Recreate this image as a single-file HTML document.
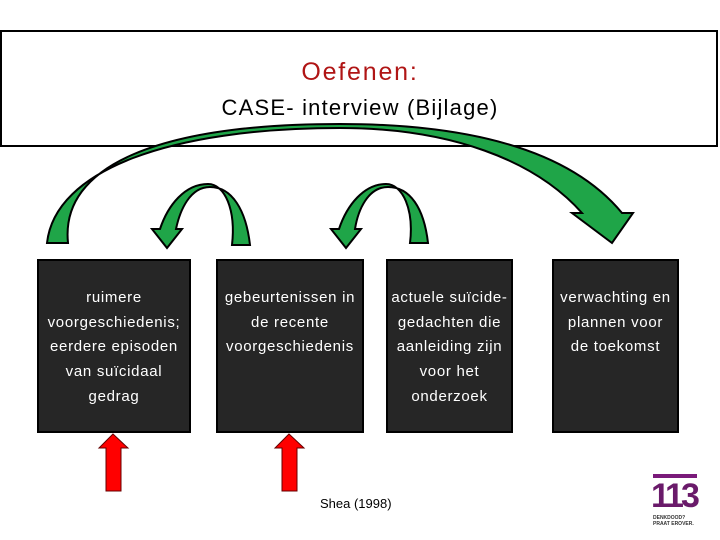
<!DOCTYPE html>
<html><head><style>
body{margin:0;background:#fff;}
.wrap{position:relative;width:720px;height:540px;overflow:hidden;font-family:"Liberation Sans",sans-serif;}
.box{position:absolute;background:#262626;border:2px solid #000;box-sizing:border-box;color:#fff;text-align:center;font-size:15px;letter-spacing:0.7px;line-height:24.7px;padding-top:25px;white-space:nowrap;}
</style></head><body><div class="wrap">
<div style="position:absolute;left:0;top:30px;width:718px;height:117px;border:2px solid #000;box-sizing:border-box;"></div>
<div style="position:absolute;left:0;top:58px;width:720px;text-align:center;font-size:25px;letter-spacing:1.8px;color:#b01515;">Oefenen:</div>
<div style="position:absolute;left:0;top:95px;width:720px;text-align:center;font-size:22px;letter-spacing:1.2px;color:#000;">CASE- interview (Bijlage)</div>
<svg width="720" height="540" style="position:absolute;left:0;top:0">
<g fill="#1fa548" stroke="#000" stroke-width="2" stroke-linejoin="miter">
<path d="M47 243 C55 170 170 128 340 128 C450 128 535 160 582 213 L572 213 L612 243 L633 213 L622 213 C570 150 470 124 340 124 C160 124 60 165 68 243 Z"/>
<path d="M250 245 C246 210 232 187 210 187 C190 187 180 210 176 229 L182 229 L167 248 L152 229 L160 229 C168 205 185 184 208 184 C225 184 236 210 232 245 Z"/>
<path d="M428 243 C424 208 410 187 388 187 C368 187 358 210 355 229 L361 229 L346 248 L331 229 L339 229 C347 205 364 184 386 184 C403 184 414 210 410 243 Z"/>
</g>
<g fill="#f00" stroke="#600" stroke-width="1">
<path d="M113 434 L128 448 L121 448 L121 491 L106 491 L106 448 L99 448 Z"/>
<path d="M289 434 L304 448 L297 448 L297 491 L282 491 L282 448 L275 448 Z"/>
</g>
</svg>
<div class="box" style="left:37px;top:259px;width:154px;height:174px;">ruimere<br>voorgeschiedenis;<br>eerdere episoden<br>van suïcidaal<br>gedrag</div>
<div class="box" style="left:216px;top:259px;width:148px;height:174px;">gebeurtenissen in<br>de recente<br>voorgeschiedenis</div>
<div class="box" style="left:386px;top:259px;width:127px;height:174px;">actuele suïcide-<br>gedachten die<br>aanleiding zijn<br>voor het<br>onderzoek</div>
<div class="box" style="left:552px;top:259px;width:127px;height:174px;">verwachting en<br>plannen voor<br>de toekomst</div>
<div style="position:absolute;left:320px;top:496px;font-size:13px;">Shea (1998)</div>
<div style="position:absolute;left:653px;top:474px;width:44px;height:4px;background:#7a1a7a;"></div>
<div style="position:absolute;left:651px;top:478px;font-size:34px;font-weight:bold;color:#6a1a6a;letter-spacing:-3px;line-height:36px;">113</div>
<div style="position:absolute;left:653px;top:515px;font-size:5px;font-weight:bold;color:#333;line-height:6px;">DENKDOOD?<br>PRAAT EROVER.</div>
</div></body></html>
